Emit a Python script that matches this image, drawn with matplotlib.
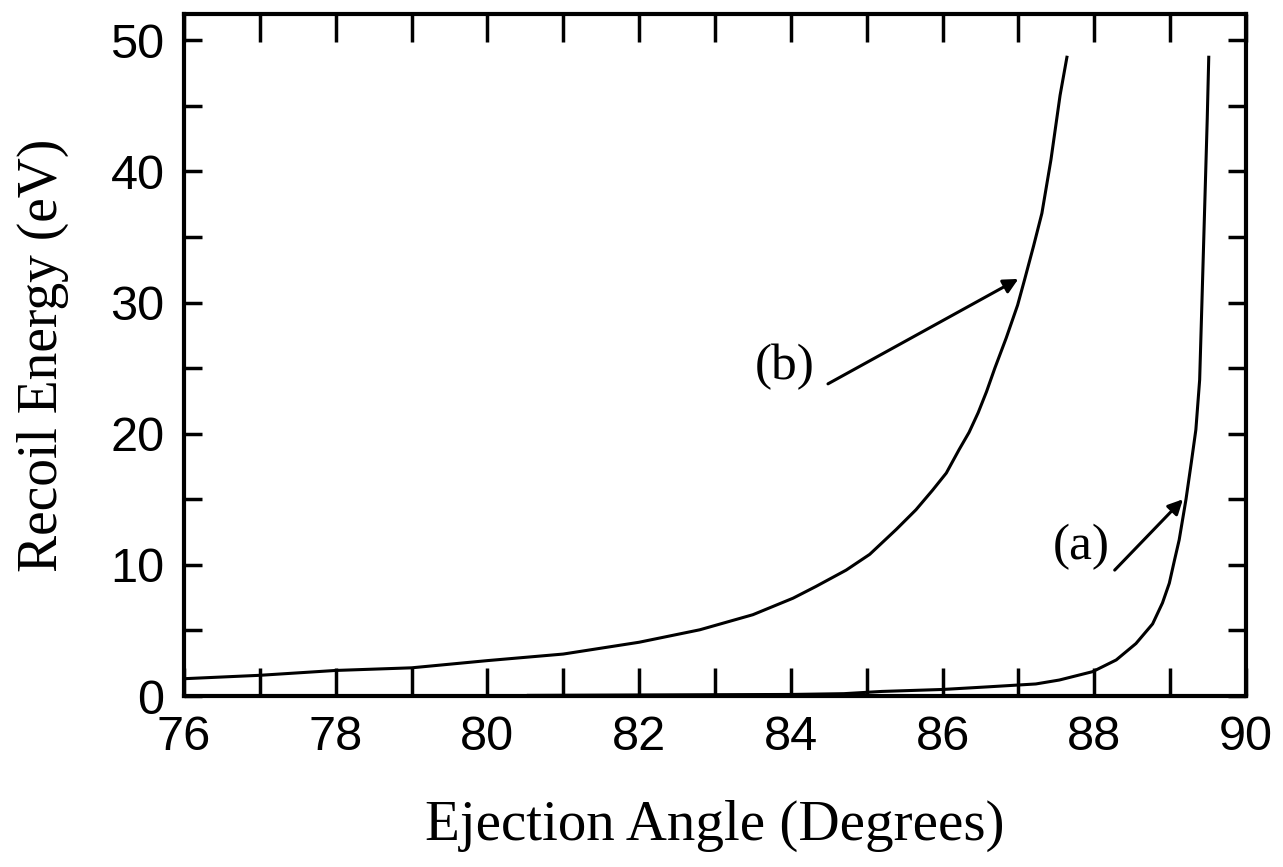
import numpy as np
import matplotlib.pyplot as plt
from matplotlib.ticker import MultipleLocator

# curve (b)
angle_b = [76.0, 76.5, 77.0, 78.0, 79.0, 80.0, 81.0, 82.0, 82.8, 83.5, 84.03,
           84.33, 84.73, 85.04, 85.39, 85.65, 85.87, 86.05, 86.22, 86.35, 86.47,
           86.58, 86.69, 86.84, 86.99, 87.08, 87.2, 87.31, 87.43, 87.55, 87.64]
energy_b = [1.32, 1.45, 1.58, 1.95, 2.15, 2.7, 3.2, 4.1, 5.05, 6.2, 7.46,
            8.35, 9.6, 10.8, 12.7, 14.2, 15.7, 17.0, 18.8, 20.1, 21.6,
            23.2, 25.0, 27.3, 29.8, 31.7, 34.3, 36.8, 40.9, 45.8, 48.7]

# curve (a)
angle_a = [80.54, 82.0, 84.0, 84.7, 85.2, 86.0, 86.6, 87.0, 87.23, 87.54, 87.98,
           88.29, 88.55, 88.77, 88.9, 88.99, 89.06, 89.12, 89.21, 89.28, 89.34,
           89.39, 89.42, 89.46, 89.49, 89.51]
energy_a = [0.05, 0.08, 0.12, 0.18, 0.35, 0.5, 0.7, 0.84, 0.92, 1.22, 1.86,
            2.75, 4.0, 5.5, 7.1, 8.6, 10.4, 11.9, 15.0, 17.8, 20.3,
            24.1, 30.0, 38.0, 44.0, 48.7]

# labels and arrows: (text, text pos, arrow tail, arrow tip)
label_b = "(b)"
label_b_pos = (84.32, 25.1)
arrow_b = [(84.49, 23.8), (87.0, 31.8)]
label_a = "(a)"
label_a_pos = (88.2, 11.4)
arrow_a = [(88.27, 9.6), (89.17, 15.0)]

serif = ['Liberation Serif', 'DejaVu Serif']
sans = ['Liberation Sans', 'DejaVu Sans']

fig = plt.figure(figsize=(12.83, 8.67), dpi=100)
ax = fig.add_axes([0.1434, 0.1972, 0.8277, 0.7867])

ax.plot(angle_b, energy_b, color='k', lw=2.2)
ax.plot(angle_a, energy_a, color='k', lw=2.2)

ax.set_xlim(76, 90)
ax.set_ylim(0, 52)

ax.xaxis.set_major_locator(MultipleLocator(2))
ax.xaxis.set_minor_locator(MultipleLocator(1))
ax.yaxis.set_major_locator(MultipleLocator(10))
ax.yaxis.set_minor_locator(MultipleLocator(5))
ax.tick_params(axis='x', which='both', direction='in', top=True, length=20, width=2.5, pad=14)
ax.tick_params(axis='y', which='both', direction='in', right=True, length=13, width=2.5, pad=14)
for lab in ax.get_xticklabels() + ax.get_yticklabels():
    lab.set_family(sans)
    lab.set_fontsize(35)
for sp in ax.spines.values():
    sp.set_linewidth(3)

ax.set_xlabel("Ejection Angle (Degrees)", family=serif, fontsize=41, labelpad=28)
ax.set_ylabel("Recoil Energy (eV)", family=serif, fontsize=40, labelpad=30)

aprops = dict(arrowstyle='-|>', color='k', lw=2.2, mutation_scale=22, shrinkA=0, shrinkB=0)
ax.annotate("", xy=arrow_b[1], xytext=arrow_b[0], arrowprops=aprops)
ax.annotate("", xy=arrow_a[1], xytext=arrow_a[0], arrowprops=aprops)
ax.text(*label_b_pos, label_b, family=serif, fontsize=37, ha='right', va='center')
ax.text(*label_a_pos, label_a, family=serif, fontsize=37, ha='right', va='center')

fig.savefig("out.png", dpi=100)
